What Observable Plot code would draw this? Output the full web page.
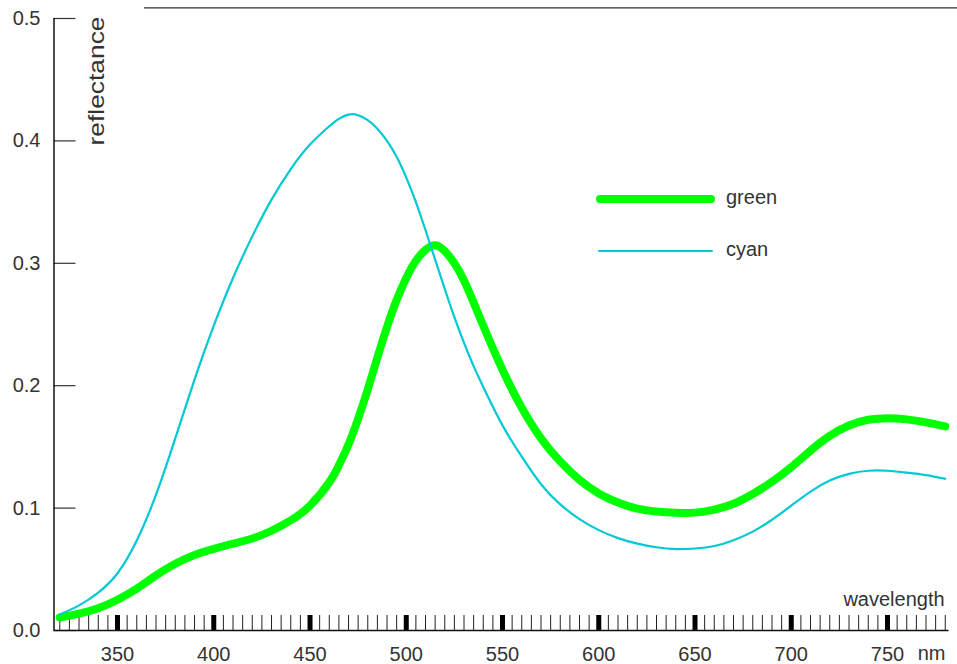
<!DOCTYPE html>
<html><head><meta charset="utf-8">
<script src="https://cdn.jsdelivr.net/npm/d3@7"></script>
<script src="https://cdn.jsdelivr.net/npm/@observablehq/plot@0.6"></script>
<style>
body{margin:0;background:#fff;}
#wrap{position:relative;width:957px;height:664px;font-family:"Liberation Sans",Arial,sans-serif;}
.legline{position:absolute;}
.legtext{position:absolute;font-size:20px;line-height:20px;color:#333;white-space:nowrap;}
</style></head><body><div id="wrap"></div>
<script>
// ---- data ----
const wavelengths = [320,330,340,350,360,370,380,390,400,410,420,430,440,450,
  460,465,470,475,480,485,490,495,500,505,510,515,520,525,530,535,540,
  550,560,570,580,590,600,610,620,630,640,650,660,670,680,690,700,710,720,730,740,750,760,770,780];
const green = [0.0106,0.0138,0.0182,0.0251,0.0342,0.0450,0.0545,0.0617,0.0667,0.0709,0.0752,0.0815,0.0900,0.1020,
  0.121,0.135,0.152,0.173,0.197,0.223,0.248,0.270,0.288,0.302,0.311,0.3148,0.310,0.300,0.286,0.268,0.249,
  0.213,0.182,0.157,0.138,0.123,0.112,0.1045,0.0995,0.0972,0.0962,0.0963,0.0988,0.1035,0.1115,0.1215,0.1335,0.147,0.159,0.1675,0.1722,0.1735,0.1725,0.170,0.1668];
const cyan = [0.013,0.0205,0.0310,0.0468,0.0735,0.111,0.157,0.205,0.249,0.288,0.322,0.352,0.377,0.397,
  0.412,0.418,0.4215,0.421,0.417,0.410,0.400,0.387,0.370,0.350,0.327,0.303,0.279,0.256,0.235,0.216,0.199,
  0.1676,0.142,0.1195,0.103,0.091,0.082,0.0755,0.071,0.068,0.0665,0.067,0.069,0.0738,0.0808,0.0905,0.102,0.1135,0.1225,0.128,0.1305,0.1305,0.129,0.127,0.124];
const seriesNames = ["green","cyan"];
const seriesColors = ["#00ff00","#00c8d4"];
const yTicks = [0,0.1,0.2,0.3,0.4,0.5];
const yTickLabels = ["0.0","0.1","0.2","0.3","0.4","0.5"];
const xMajorTicks = [350,400,450,500,550,600,650,700,750];
const xTickLabels = ["350","400","450","500","550","600","650","700","750"];
const xMinorTicks = d3.range(320, 781, 5);
const xDomain = [317, 782];
const yDomain = [0, 0.5];
const topRule = {value: 0.5086, from: 364, to: 786.5};

const greenRows = wavelengths.map((w,i)=>({w, v: green[i]}));
const cyanRows = wavelengths.map((w,i)=>({w, v: cyan[i]}));

// ---- layout ----
const W=957, H=664, ML=53.5, MR=8.4, MT=18, MB=34;
const plotW = W-ML-MR, plotH = H-MT-MB;
const font = "Liberation Sans, Arial, sans-serif";

const chart = Plot.plot({
  width: W, height: H,
  marginLeft: ML, marginRight: MR, marginTop: MT, marginBottom: MB,
  style: {fontFamily: font, fontSize: "20px", color: "#333", background: "white", overflow: "visible"},
  x: {domain: xDomain, label: null},
  y: {domain: yDomain, label: null},
  marks: [
    Plot.ruleY([topRule.value], {x1: topRule.from, x2: topRule.to, stroke: "#333", strokeWidth: 1.2}),
    Plot.tickX(xMinorTicks, {x: d=>d, stroke: "#222", strokeWidth: 1, insetTop: plotH-15}),
    Plot.tickX(xMajorTicks, {x: d=>d, stroke: "#000", strokeWidth: 5, insetTop: plotH-15}),
    Plot.tickY(yTicks, {y: d=>d, stroke: "#333", strokeWidth: 1.2, insetRight: plotW-22}),
    Plot.ruleX([xDomain[0]], {stroke: "#111", strokeWidth: 1.5}),
    Plot.ruleY([yDomain[0]], {stroke: "#111", strokeWidth: 1.3}),
    Plot.axisX(xMajorTicks, {tickSize: 0, tickPadding: 16, fontSize: 20, tickFormat: (d)=>xTickLabels[xMajorTicks.indexOf(d)]}),
    Plot.axisY(yTicks, {tickSize: 0, tickPadding: 13.5, fontSize: 20, tickFormat: (d)=>yTickLabels[yTicks.indexOf(d)]}),
    Plot.lineY(greenRows, {x: "w", y: "v", stroke: seriesColors[0], strokeWidth: 8, strokeLinecap: "round", strokeLinejoin: "round", curve: "natural"}),
    Plot.lineY(cyanRows, {x: "w", y: "v", stroke: seriesColors[1], strokeWidth: 2.2, curve: "natural"}),
    Plot.text(["wavelength"], {text: d=>d, frameAnchor: "bottom-right", textAnchor: "end", lineAnchor: "bottom", dx: -4.5, dy: -25, fontSize: 20, fill: "#333"}),
    Plot.text(["nm"], {text: d=>d, frameAnchor: "bottom-right", textAnchor: "end", lineAnchor: "bottom", dx: -3.6, dy: 29.5, fontSize: 20, fill: "#333"}),
    Plot.text(["reflectance"], {text: d=>d, frameAnchor: "top-left", textAnchor: "end", lineAnchor: "bottom", rotate: -90, dx: 49.5, dy: -2, fontSize: 22, fill: "#333"})
  ]
});

// stretch the rotated label to its measured length
d3.select(chart).selectAll("text").filter(function(){ return this.textContent === "reflectance"; })
  .attr("textLength", 129).attr("lengthAdjust", "spacingAndGlyphs");

const wrap = document.getElementById("wrap");
wrap.appendChild(chart);

// ---- legend ----
const legend = [
  {name: seriesNames[0], color: seriesColors[0], width: 8, left: 596, lineTop: 199.3, len: 119},
  {name: seriesNames[1], color: seriesColors[1], width: 2.2, left: 598, lineTop: 250.7, len: 115}
];
legend.forEach(l => {
  const ln = document.createElement("div");
  ln.className = "legline";
  ln.style.left = l.left + "px";
  ln.style.top = (l.lineTop - l.width/2) + "px";
  ln.style.width = l.len + "px";
  ln.style.height = l.width + "px";
  ln.style.borderRadius = (l.width/2) + "px";
  ln.style.background = l.color;
  wrap.appendChild(ln);
  const tx = document.createElement("div");
  tx.className = "legtext";
  tx.style.left = "726px";
  tx.style.top = (l.lineTop + 5 - 17) + "px";
  tx.textContent = l.name;
  wrap.appendChild(tx);
});
</script></body></html>
